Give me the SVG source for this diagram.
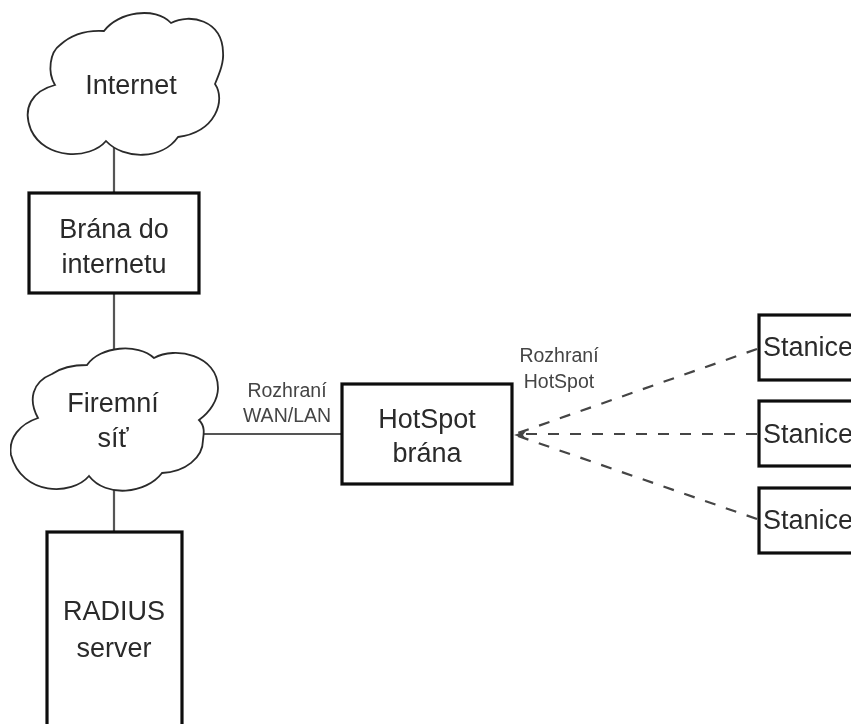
<svg xmlns="http://www.w3.org/2000/svg" width="851" height="724" viewBox="0 0 851 724">
<style>
.box{fill:#fff;stroke:#0c0c0c;stroke-width:3.2}
.cloud{fill:#fff;stroke:#2a2a2a;stroke-width:1.8}
.t{font-family:"Liberation Sans",Arial,sans-serif;font-size:27px;fill:#2a2a2a;text-anchor:middle}
.st{font-family:"Liberation Sans",Arial,sans-serif;font-size:27px;fill:#2a2a2a}
.s{font-family:"Liberation Sans",Arial,sans-serif;font-size:19.5px;fill:#444;text-anchor:middle}
.l{stroke:#555;stroke-width:2.2;fill:none}
.d{stroke:#444;stroke-width:2.2;fill:none;stroke-dasharray:11 11}
</style>
<defs><filter id="soft" x="0" y="0" width="100%" height="100%"><feGaussianBlur stdDeviation="0.45"/></filter></defs>
<rect width="851" height="724" fill="#fff"/>
<g filter="url(#soft)">
<g id="connectors">
<path class="l" d="M114 148V192M114 293V349M114 490V532M203 434H342"/>
<path class="d" d="M757 349L518 433M757 434H518M757 519L518 436"/>
<path d="M514 435L526 431L523 435L526 439Z" fill="#444"/>
</g>
<g id="internet">
<path class="cloud" d="M55 85C47 72 50 52 60 45C72 34 88 30 104 31C118 12 155 6 171 23C190 13 222 20 223 52C224 62 220 72 215 84C226 100 216 132 178 137C162 160 124 160 106 141C90 160 45 160 31 130C22 108 32 91 55 85Z"/>
<text class="t" x="131" y="94">Internet</text>
</g>
<g id="brana-do-internetu">
<rect class="box" x="29" y="193" width="170" height="100"/>
<text class="t" x="114" y="238">Brána do</text>
<text class="t" x="114" y="273">internetu</text>
</g>
<g id="firemni-sit">
<path class="cloud" d="M38 418C28 400 32 382 52 374C62 367 75 365 87 365C100 346 138 343 154 358C175 346 218 355 218 388C218 400 210 412 199 420C205 426 204 433 203 440C203 458 185 472 162 473C146 494 106 498 89 476C72 496 22 496 11 455C8 438 20 424 38 418Z"/>
<text class="t" x="113" y="412">Firemní</text>
<text class="t" x="113" y="447">síť</text>
</g>
<g id="radius-server">
<rect class="box" x="47" y="532" width="135" height="210"/>
<text class="t" x="114" y="620">RADIUS</text>
<text class="t" x="114" y="657">server</text>
</g>
<g id="hotspot-brana">
<rect class="box" x="342" y="384" width="170" height="100"/>
<text class="t" x="427" y="428">HotSpot</text>
<text class="t" x="427" y="462">brána</text>
</g>
<g id="stanice-1">
<rect class="box" x="759" y="315" width="110" height="65"/>
<text class="st" x="763" y="356">Stanice</text>
</g>
<g id="stanice-2">
<rect class="box" x="759" y="401" width="110" height="65"/>
<text class="st" x="763" y="443">Stanice</text>
</g>
<g id="stanice-3">
<rect class="box" x="759" y="488" width="110" height="65"/>
<text class="st" x="763" y="529">Stanice</text>
</g>
<g id="labels">
<text class="s" x="287" y="397">Rozhraní</text>
<text class="s" x="287" y="422">WAN/LAN</text>
<text class="s" x="559" y="362">Rozhraní</text>
<text class="s" x="559" y="388">HotSpot</text>
</g>
</g>
</svg>
